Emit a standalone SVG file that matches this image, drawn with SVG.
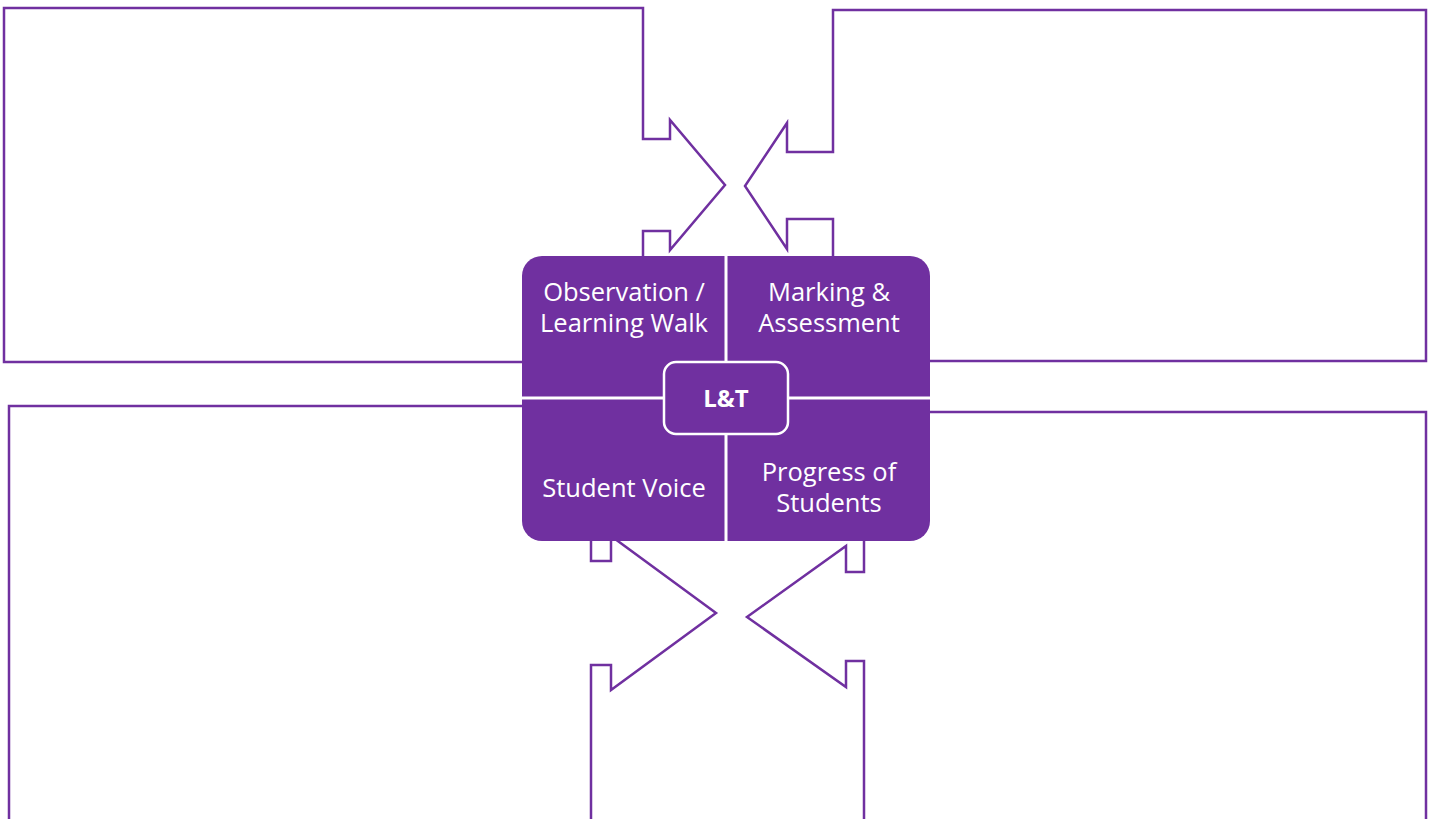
<svg xmlns="http://www.w3.org/2000/svg" width="1434" height="819" viewBox="0 0 1434 819">
<style>
.callout{fill:#ffffff;stroke:#7030A0;stroke-width:2.5;stroke-linejoin:miter}
.quad{fill:#7030A0}
.div{stroke:#ffffff;stroke-width:3}
.lbl{font-family:"Open Sans","Liberation Sans",sans-serif;font-size:25.5px;fill:#ffffff;text-anchor:middle}
.core{font-family:"Open Sans","Liberation Sans",sans-serif;font-size:24px;font-weight:bold;fill:#ffffff;text-anchor:middle}
</style>
<rect width="1434" height="819" fill="#ffffff"/>
<g id="callout-top-left"><path class="callout" d="M4,8 H643 V139 H670 V120 L725,185 L670,250 V231 H643 V362 H4 Z"/></g>
<g id="callout-top-right"><path class="callout" d="M833,10 H1426 V361 H833 V219 H787 V249 L745,186 L787,123 V152 H833 Z"/></g>
<g id="callout-bottom-left"><path class="callout" d="M9,406 H591 V561 H611 V536 L716,613 L611,690 V665 H591 V840 H9 Z"/></g>
<g id="callout-bottom-right"><path class="callout" d="M1426,412 V840 H864 V661 H846 V687 L747,617 L846,546 V572 H864 V412 Z"/></g>
<g id="connectors"></g>
<g id="lt-panel">
<rect class="quad" x="522" y="256" width="408" height="285" rx="20" ry="20"/>
<line class="div" x1="726" y1="254" x2="726" y2="543"/>
<line class="div" x1="520" y1="398" x2="932" y2="398"/>
</g>
<g id="quad-observation"><text class="lbl" x="624" y="301">Observation /</text><text class="lbl" x="624" y="332">Learning Walk</text></g>
<g id="quad-marking"><text class="lbl" x="829" y="301">Marking &amp;</text><text class="lbl" x="829" y="332">Assessment</text></g>
<g id="quad-voice"><text class="lbl" x="624" y="497">Student Voice</text></g>
<g id="quad-progress"><text class="lbl" x="829" y="481">Progress of</text><text class="lbl" x="829" y="512">Students</text></g>
<g id="core-lt"><rect x="664" y="362" width="124" height="72" rx="12" ry="12" fill="#7030A0" stroke="#ffffff" stroke-width="2.5"/><text class="core" x="726" y="407">L&amp;T</text></g>
</svg>
